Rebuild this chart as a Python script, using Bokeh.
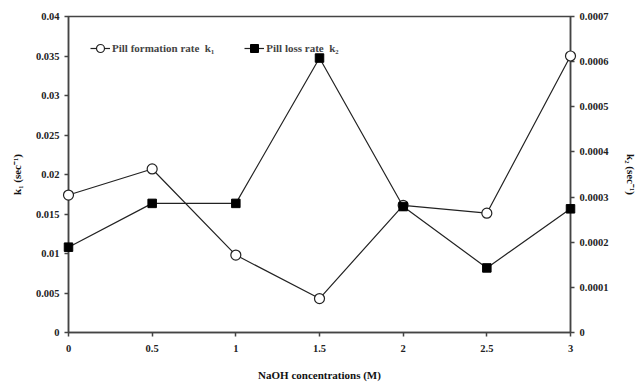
from bokeh.plotting import figure
from bokeh.models import Range1d, LinearAxis, FixedTicker, Legend, LegendItem
from bokeh.embed import file_html
from bokeh.resources import INLINE

naoh = [0, 0.5, 1, 1.5, 2, 2.5, 3]
k1 = [0.0174, 0.0207, 0.0098, 0.0043, 0.0161, 0.0151, 0.0350]
k2 = [0.000189, 0.000286, 0.000286, 0.000608, 0.000279, 0.000143, 0.000274]

x_ticks = [0, 0.5, 1, 1.5, 2, 2.5, 3]
x_labels = ["0", "0.5", "1", "1.5", "2", "2.5", "3"]
k1_ticks = [0, 0.005, 0.01, 0.015, 0.02, 0.025, 0.03, 0.035, 0.04]
k1_labels = ["0", "0.005", "0.01", "0.015", "0.02", "0.025", "0.03", "0.035", "0.04"]
k2_ticks = [0, 0.0001, 0.0002, 0.0003, 0.0004, 0.0005, 0.0006, 0.0007]
k2_labels = ["0", "0.0001", "0.0002", "0.0003", "0.0004", "0.0005", "0.0006", "0.0007"]

FONT = "Liberation Serif"
AX = "#444444"

p = figure(width=640, height=383, output_backend="svg", toolbar_location=None,
           x_range=Range1d(0, 3), y_range=Range1d(0, 0.04),
           min_border_left=68, min_border_right=68, min_border_top=16, min_border_bottom=47)
p.extra_y_ranges = {"k2": Range1d(0, 0.0007)}
p.grid.visible = False
p.outline_line_color = AX
p.outline_line_width = 1.5
p.background_fill_color = "white"
p.border_fill_color = "white"

def style(ax, ticks, labels):
    ax.ticker = FixedTicker(ticks=ticks)
    ax.major_label_overrides = {t: l for t, l in zip(ticks, labels)}
    ax.minor_tick_line_color = None
    ax.axis_line_color = AX
    ax.axis_line_width = 1.5
    ax.major_tick_line_color = AX
    ax.major_tick_line_width = 1.5
    ax.major_tick_out = 4
    ax.major_tick_in = 0
    ax.major_label_text_font = FONT
    ax.major_label_text_font_size = "10.5px"
    ax.major_label_text_font_style = "bold"
    ax.major_label_text_color = "#222222"
    ax.axis_label_text_font = FONT
    ax.axis_label_text_font_size = "11px"
    ax.axis_label_text_font_style = "bold"
    ax.axis_label_text_color = "#111111"

style(p.xaxis[0], x_ticks, x_labels)
p.xaxis[0].axis_label = "NaOH concentrations (M)"
p.xaxis[0].axis_label_standoff = 14
p.xaxis[0].major_label_standoff = 8

style(p.yaxis[0], k1_ticks, k1_labels)
p.yaxis[0].axis_label = "k\u2081 (sec\u207b\u00b9)"
p.yaxis[0].axis_label_standoff = 10

rax = LinearAxis(y_range_name="k2")
style(rax, k2_ticks, k2_labels)
rax.axis_label = "k\u2082 (sec\u207b\u00b9)"
rax.axis_label_standoff = 14
p.add_layout(rax, "right")

l1 = p.line(naoh, k1, line_color="#222222", line_width=1.2, level="overlay")
m1 = p.scatter(naoh, k1, marker="circle", size=10, fill_color="white",
               line_color="#222222", line_width=1.2, level="overlay")
l2 = p.line(naoh, k2, y_range_name="k2", line_color="#222222", line_width=1.2, level="overlay")
m2 = p.scatter(naoh, k2, y_range_name="k2", marker="square", size=8.5, fill_color="black",
               line_color="black", level="overlay")

legend = Legend(items=[LegendItem(label="Pill formation rate  k\u2081", renderers=[l1, m1]),
                       LegendItem(label="Pill loss rate  k\u2082", renderers=[l2, m2])],
                orientation="horizontal", location=(22, 274))
legend.border_line_color = None
legend.background_fill_alpha = 0
legend.label_text_font = FONT
legend.label_text_font_size = "11px"
legend.label_text_font_style = "bold"
legend.glyph_width = 20
legend.spacing = 30
legend.margin = 0
legend.padding = 6
legend.label_standoff = 2
p.add_layout(legend)

open("out.html", "w").write(file_html(p, INLINE))
